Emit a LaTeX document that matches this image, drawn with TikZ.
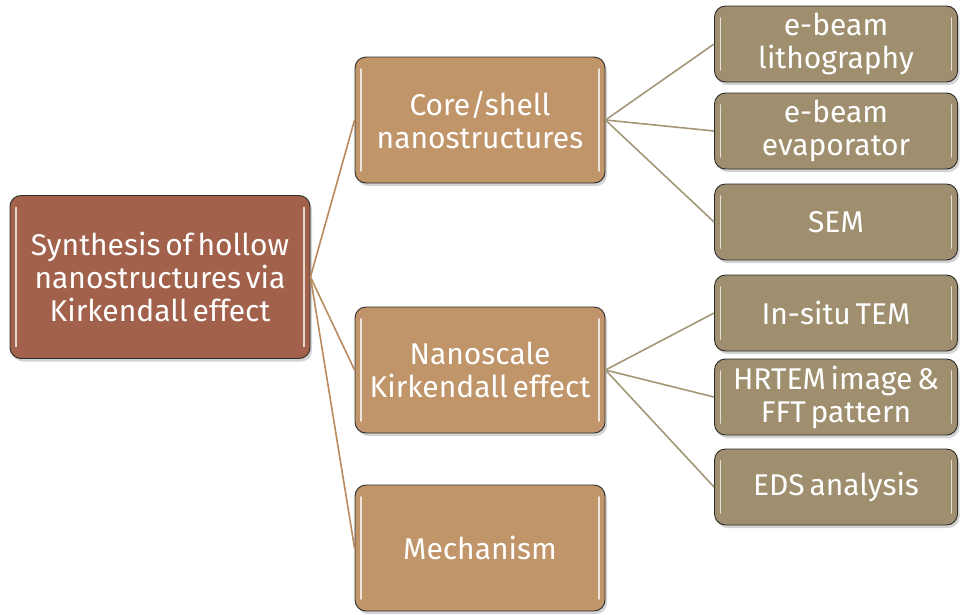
\documentclass[tikz,border=0pt]{standalone}
\usepackage{fontspec}
\setmainfont{Fira Sans}[WordSpace=0.6]
\usepackage{tikz}
\usetikzlibrary{positioning,shadows}
\definecolor{RootFill}{HTML}{A2614B}
\definecolor{MidFill}{HTML}{C0956A}
\definecolor{LeafFill}{HTML}{9F8F6F}
\definecolor{MidLine}{HTML}{B98A5E}
\definecolor{LeafLine}{HTML}{A39777}
\definecolor{BoxEdge}{HTML}{2B2B2B}

\begin{document}
\begin{tikzpicture}[x=1pt,y=-1pt]
  \tikzstyle{gloss}=[draw=BoxEdge,line width=0.9pt,rounded corners=11pt,
    align=center,text=white,inner sep=2pt,
    font=\fontsize{30}{33}\selectfont,
    drop shadow={shadow xshift=2pt,shadow yshift=-3pt,opacity=.35},
    path picture={
      \draw[white,opacity=.75,line width=1.6pt,line cap=round]
        ([xshift=6pt,yshift=-12pt]path picture bounding box.north west)
        -- ([xshift=6pt,yshift=12pt]path picture bounding box.south west);
      \draw[white,opacity=.75,line width=1.6pt,line cap=round]
        ([xshift=-6pt,yshift=-12pt]path picture bounding box.north east)
        -- ([xshift=-6pt,yshift=12pt]path picture bounding box.south east);}]
  \tikzstyle{rootbox}=[gloss,fill=RootFill,minimum width=300pt,minimum height=163pt]
  \tikzstyle{midbox}=[gloss,fill=MidFill,minimum width=250pt,minimum height=126pt]
  \tikzstyle{leafbox}=[gloss,fill=LeafFill,minimum width=243pt,minimum height=76pt]
  \useasboundingbox (0,0) rectangle (960,614);
  \node[rootbox] (root) at (160,277) {Synthesis of hollow\\nanostructures via\\Kirkendall effect};
  \node[midbox] (core) at (480,120) {Core/shell\\nanostructures};
  \node[midbox] (nano) at (480,370) {Nanoscale\\Kirkendall effect};
  \node[midbox] (mech) at (480,548) {Mechanism};
  \node[leafbox] (litho) at (836,44) {e-beam\\lithography};
  \node[leafbox] (evap) at (836,131) {e-beam\\evaporator};
  \node[leafbox] (sem) at (836,222) {SEM};
  \node[leafbox] (tem) at (836,313) {In-situ TEM};
  \node[leafbox] (hrtem) at (836,397) {HRTEM image \&\\FFT pattern};
  \node[leafbox] (eds) at (836,487) {EDS analysis};
  \draw[MidLine,line width=1.6pt] (root.east)--(core.west);
  \draw[MidLine,line width=1.6pt] (root.east)--(nano.west);
  \draw[MidLine,line width=1.6pt] (root.east)--(mech.west);
  \draw[LeafLine,line width=1.6pt] (core.east)--(litho.west);
  \draw[LeafLine,line width=1.6pt] (core.east)--(evap.west);
  \draw[LeafLine,line width=1.6pt] (core.east)--(sem.west);
  \draw[LeafLine,line width=1.6pt] (nano.east)--(tem.west);
  \draw[LeafLine,line width=1.6pt] (nano.east)--(hrtem.west);
  \draw[LeafLine,line width=1.6pt] (nano.east)--(eds.west);
\end{tikzpicture}
\end{document}
